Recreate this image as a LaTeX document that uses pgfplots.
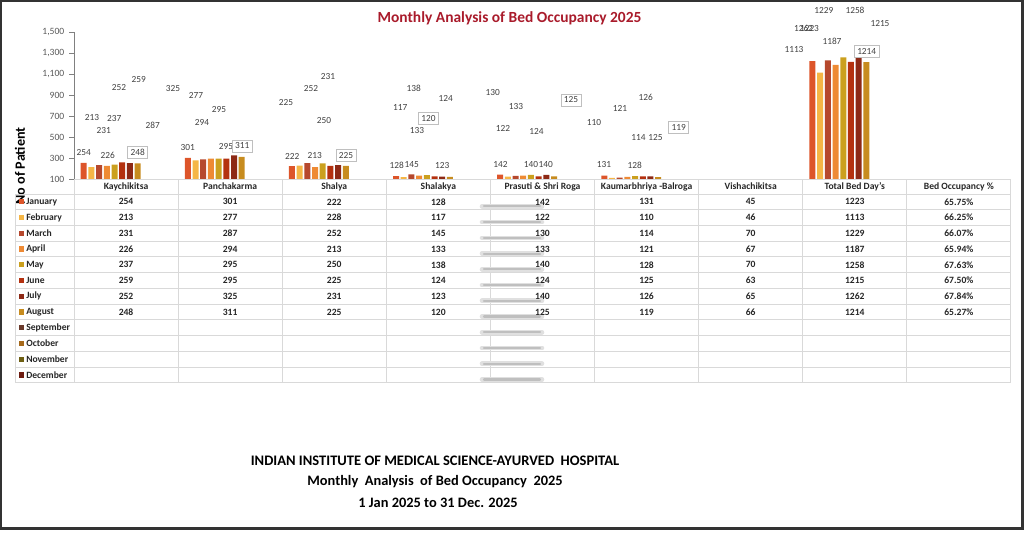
\documentclass[border=0pt]{standalone}
\usepackage{pgfplots}
\pgfplotsset{compat=1.18}
\usepackage{pgfplotstable}
\usepackage{fontspec}
\setmainfont{Carlito}

\definecolor{cJan}{HTML}{DD552A}
\definecolor{cFeb}{HTML}{F5B646}
\definecolor{cMar}{HTML}{B6482D}
\definecolor{cApr}{HTML}{EE8A34}
\definecolor{cMay}{HTML}{CBA01E}
\definecolor{cJun}{HTML}{B4310F}
\definecolor{cJul}{HTML}{8D2915}
\definecolor{cAug}{HTML}{C78C1F}
\definecolor{cSep}{HTML}{6A3A2B}
\definecolor{cOct}{HTML}{A6691B}
\definecolor{cNov}{HTML}{6E5F12}
\definecolor{cDec}{HTML}{6D1B10}
\definecolor{titlered}{HTML}{A91B2B}
\definecolor{labgray}{HTML}{404040}
\definecolor{gridgray}{HTML}{D9D9D9}

% one row per ward, one column per month (Jan..Aug)
\pgfplotstableread{
x jan feb mar apr may jun jul aug
0 254 213 231 226 237 259 252 248
1 301 277 287 294 295 295 325 311
2 222 228 252 213 250 225 231 225
3 128 117 145 133 138 124 123 120
4 142 122 130 133 140 124 140 125
5 131 110 114 121 128 125 126 119
6 45 46 70 67 70 63 65 66
7 1223 1113 1229 1187 1258 1215 1262 1214
8 0.6575 0.6625 0.6607 0.6594 0.6763 0.6750 0.6784 0.6527
}\bedtable

\begin{document}
\begin{tikzpicture}
\begin{axis}[
  at={(55.5pt,-134.25pt)}, anchor=south west,
  scale only axis, width=702.75pt, height=110.25pt,
  xmin=-0.5, xmax=8.5, ymin=100, ymax=1500,
  axis x line=none, axis y line=left,
  y axis line style={draw=black!50, -},
  ytick={100,300,...,1500}, xtick=\empty,
  tick align=outside, major tick length=3.75pt,
  ytick style={draw=black!50},
  yticklabel style={font=\fontsize{7.2}{8}\selectfont, text=black!65},
  /pgf/number format/assume math mode=true,
  /pgf/number format/1000 sep={,},
]
\addplot[ybar, bar width=4.5pt, bar shift=-31.76pt, fill=cJan, draw=none] table[x=x, y=jan] {\bedtable};
\addplot[ybar, bar width=4.5pt, bar shift=-25.99pt, fill=cFeb, draw=none] table[x=x, y=feb] {\bedtable};
\addplot[ybar, bar width=4.5pt, bar shift=-20.21pt, fill=cMar, draw=none] table[x=x, y=mar] {\bedtable};
\addplot[ybar, bar width=4.5pt, bar shift=-14.44pt, fill=cApr, draw=none] table[x=x, y=apr] {\bedtable};
\addplot[ybar, bar width=4.5pt, bar shift=-8.66pt, fill=cMay, draw=none] table[x=x, y=may] {\bedtable};
\addplot[ybar, bar width=4.5pt, bar shift=-2.89pt, fill=cJun, draw=none] table[x=x, y=jun] {\bedtable};
\addplot[ybar, bar width=4.5pt, bar shift=2.89pt, fill=cJul, draw=none] table[x=x, y=jul] {\bedtable};
\addplot[ybar, bar width=4.5pt, bar shift=8.66pt, fill=cAug, draw=none] table[x=x, y=aug] {\bedtable};
\end{axis}

\begin{scope}[x=0.75pt, y=-0.75pt,
  lab/.style={font=\fontsize{7}{8}\selectfont, text=labgray, inner sep=0pt},
  boxlab/.style={lab, draw=black!25, fill=white, inner sep=2.2pt, line width=0.6pt},
  cell/.style={font=\fontsize{7.2}{8}\selectfont\bfseries, text=black!85, inner sep=0pt}]
\path[use as bounding box] (0,0) rectangle (1024,546);
\draw[line width=2pt, black!80] (1,1) rectangle (1022.5,528.5);

% title
\node[font=\fontsize{11.6}{13}\selectfont\bfseries, text=titlered] at (509.5,18) {Monthly Analysis of Bed Occupancy 2025};
% y label
\node[font=\fontsize{10.6}{12}\selectfont\bfseries, rotate=90] at (20,166) {No of Patient};

% scattered data labels
\node[lab] at (83.7,152.7) {254};
\node[lab] at (92,118) {213};
\node[lab] at (103.7,130.7) {231};
\node[lab] at (114.3,119) {237};
\node[lab] at (107.7,155) {226};
\node[lab] at (119,87.3) {252};
\node[lab] at (138.7,79.3) {259};
\node[boxlab] at (137.7,152.7) {248};
\node[lab] at (152.7,125.7) {287};
\node[lab] at (173,88.7) {325};
\node[lab] at (196,95.3) {277};
\node[lab] at (219,109.7) {295};
\node[lab] at (202,122.3) {294};
\node[lab] at (187.8,147.7) {301};
\node[lab] at (226,147) {295};
\node[boxlab] at (242.3,146) {311};
\node[lab] at (286,102.7) {225};
\node[lab] at (311,88.7) {252};
\node[lab] at (328,76.3) {231};
\node[lab] at (324,120.7) {250};
\node[lab] at (292.3,156) {222};
\node[lab] at (314.7,156) {213};
\node[boxlab] at (346,155.3) {225};
\node[lab] at (396.7,165.3) {128};
\node[lab] at (411.7,164.7) {145};
\node[lab] at (442.3,165.7) {123};
\node[lab] at (413.7,88) {138};
\node[lab] at (400.3,107.3) {117};
\node[lab] at (445.7,98.7) {124};
\node[boxlab] at (428.5,118.3) {120};
\node[lab] at (417,131) {133};
\node[lab] at (492.7,92.7) {130};
\node[lab] at (516,106.7) {133};
\node[lab] at (503,128) {122};
\node[lab] at (536.5,131.7) {124};
\node[lab] at (500.5,164.3) {142};
\node[lab] at (531,164.3) {140};
\node[lab] at (545.8,164.3) {140};
\node[boxlab] at (571,100) {125};
\node[lab] at (594,123) {110};
\node[lab] at (620,108.7) {121};
\node[lab] at (645.8,97.7) {126};
\node[lab] at (638.5,137.7) {114};
\node[lab] at (655.5,138) {125};
\node[lab] at (604,165) {131};
\node[lab] at (634.8,165.3) {128};
\node[boxlab] at (678.8,127.3) {119};
\node[lab] at (823.8,10.7) {1229};
\node[lab] at (855,10) {1258};
\node[lab] at (803.5,28.3) {1262};
\node[lab] at (809.5,28.3) {1223};
\node[lab] at (880,23.7) {1215};
\node[lab] at (832,41) {1187};
\node[lab] at (794,49.3) {1113};
\node[boxlab] at (866.7,51.7) {1214};

% data table grid
\draw[gridgray, line width=0.75pt] (74,179) -- (1011,179);
\foreach \k in {0,...,12} \draw[gridgray, line width=0.75pt] (15,{194+15.74*\k}) -- (1011,{194+15.74*\k});
\draw[gridgray, line width=0.75pt] (15,194) -- (15,383);
\foreach \c in {1,...,9} \draw[gridgray, line width=0.75pt] ({74+104.1*\c},179) -- ({74+104.1*\c},383);
\draw[gridgray, line width=0.75pt] (74,179) -- (74,383);

% smudges in the Prasuti column
\foreach \k in {0,...,11} {
  \draw[black!12, line width=3.5pt, line cap=round] (482,{194+15.74*(\k+0.5)+4.5}) -- (542,{194+15.74*(\k+0.5)+4.5});
  \draw[black!25, line width=1.6pt, line cap=round] (484,{194+15.74*(\k+0.5)+4.5}) -- (540,{194+15.74*(\k+0.5)+4.5});
}

% header row
\foreach \h [count=\c from 0] in {Kaychikitsa, Panchakarma, Shalya, Shalakya, Prasuti \& Shri Roga, Kaumarbhriya -Balroga, Vishachikitsa, Total Bed Day's, Bed Occupancy \%}
  \node[cell] at ({74+104.1*(\c+0.5)},186.5) {\h};

% legend column
\foreach \m/\col [count=\k from 0] in {January/cJan, February/cFeb, March/cMar, April/cApr, May/cMay, June/cJun, July/cJul, August/cAug, September/cSep, October/cOct, November/cNov, December/cDec} {
  \fill[\col] (19,{194+15.74*(\k+0.5)-2.6}) rectangle (24.2,{194+15.74*(\k+0.5)+2.6});
  \node[cell, anchor=west] at (26,{194+15.74*(\k+0.5)}) {\m};
}

% values
\foreach \rowvals [count=\k from 0] in {
  {254,301,222,128,142,131,45,1223,65.75\%},
  {213,277,228,117,122,110,46,1113,66.25\%},
  {231,287,252,145,130,114,70,1229,66.07\%},
  {226,294,213,133,133,121,67,1187,65.94\%},
  {237,295,250,138,140,128,70,1258,67.63\%},
  {259,295,225,124,124,125,63,1215,67.50\%},
  {252,325,231,123,140,126,65,1262,67.84\%},
  {248,311,225,120,125,119,66,1214,65.27\%}} {
  \foreach \v [count=\c from 0] in \rowvals
    \node[cell] at ({74+104.1*(\c+0.5)},{194+15.74*(\k+0.5)}) {\v};
}

% footer text
\node[font=\fontsize{10.9}{13}\selectfont\bfseries] at (435,461) {INDIAN INSTITUTE OF MEDICAL SCIENCE-AYURVED\ \ HOSPITAL};
\node[font=\fontsize{10.8}{13}\selectfont\bfseries] at (435,482) {Monthly\ \ Analysis\ \ of Bed Occupancy\ \ 2025};
\node[font=\fontsize{10.8}{13}\selectfont\bfseries] at (438,503) {1 Jan 2025 to 31 Dec. 2025};
\end{scope}
\end{tikzpicture}
\end{document}
